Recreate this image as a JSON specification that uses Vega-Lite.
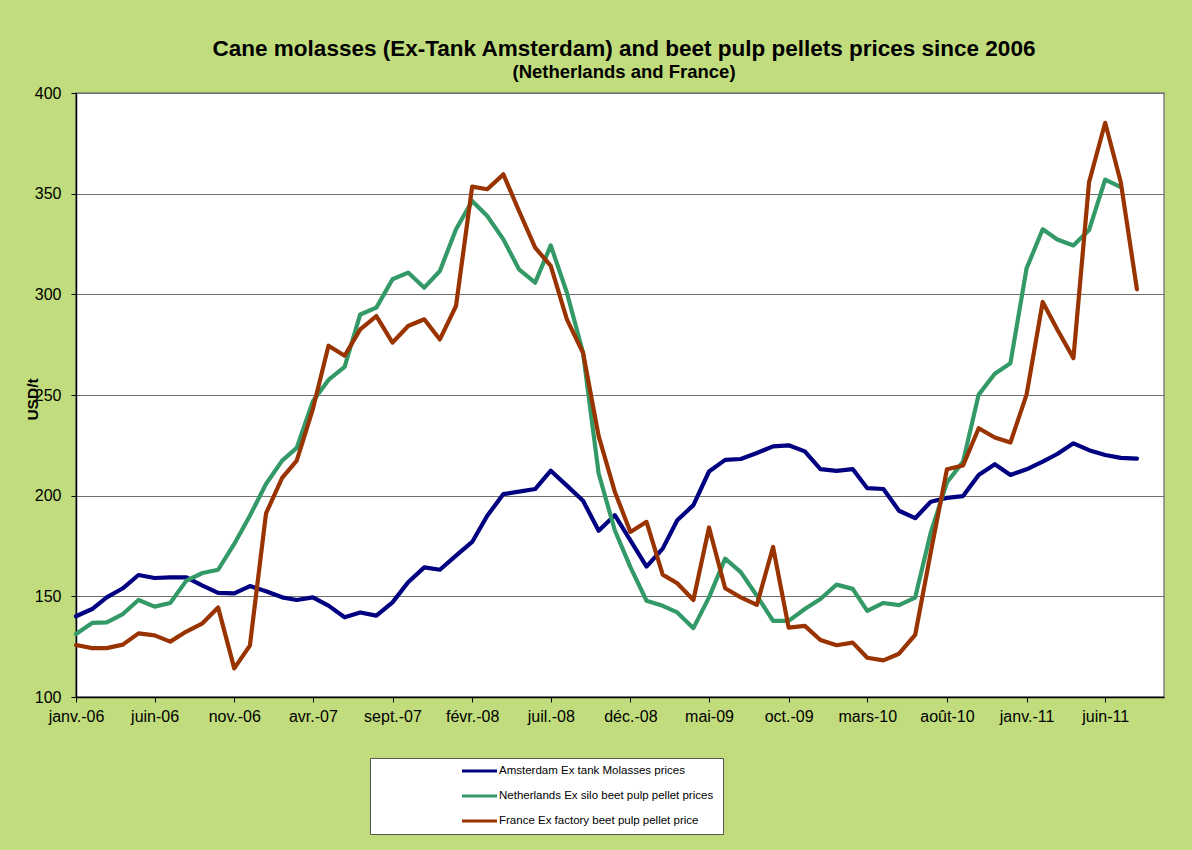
{
  "$schema": "https://vega.github.io/schema/vega-lite/v6.json",
  "width": 1088,
  "height": 604,
  "autosize": "none",
  "padding": {"left": 76, "top": 93, "right": 28, "bottom": 153},
  "background": "#C0DC7C",
  "title": {
    "text": "Cane molasses (Ex-Tank Amsterdam) and beet pulp pellets prices since 2006",
    "subtitle": "(Netherlands and France)",
    "font": "Liberation Sans",
    "subtitleFont": "Liberation Sans",
    "fontSize": 22.5,
    "subtitleFontSize": 18.5,
    "fontWeight": "bold",
    "subtitleFontWeight": "bold",
    "color": "black",
    "subtitleColor": "black",
    "anchor": "middle",
    "offset": 4,
    "subtitlePadding": 2,
    "dx": 4
  },
  "data": {
    "values": [
      {"date": "2006-01-01", "amsterdam": 140.1, "netherlands": 131.3, "france": 125.8},
      {"date": "2006-02-01", "amsterdam": 143.7, "netherlands": 136.8, "france": 124.3},
      {"date": "2006-03-01", "amsterdam": 149.5, "netherlands": 137.1, "france": 124.3},
      {"date": "2006-04-01", "amsterdam": 154.0, "netherlands": 141.2, "france": 126.0},
      {"date": "2006-05-01", "amsterdam": 160.6, "netherlands": 148.2, "france": 131.6},
      {"date": "2006-06-01", "amsterdam": 159.1, "netherlands": 144.9, "france": 130.6},
      {"date": "2006-07-01", "amsterdam": 159.4, "netherlands": 146.7, "france": 127.5},
      {"date": "2006-08-01", "amsterdam": 159.4, "netherlands": 157.8, "france": 132.5},
      {"date": "2006-09-01", "amsterdam": 155.3, "netherlands": 161.6, "france": 136.6},
      {"date": "2006-10-01", "amsterdam": 151.7, "netherlands": 163.2, "france": 144.5},
      {"date": "2006-11-01", "amsterdam": 151.5, "netherlands": 176.0, "france": 114.2},
      {"date": "2006-12-01", "amsterdam": 155.1, "netherlands": 190.0, "france": 125.5},
      {"date": "2007-01-01", "amsterdam": 152.5, "netherlands": 205.8, "france": 191.2},
      {"date": "2007-02-01", "amsterdam": 149.5, "netherlands": 217.4, "france": 208.8},
      {"date": "2007-03-01", "amsterdam": 148.2, "netherlands": 223.7, "france": 217.4},
      {"date": "2007-04-01", "amsterdam": 149.5, "netherlands": 246.9, "france": 243.0},
      {"date": "2007-05-01", "amsterdam": 145.4, "netherlands": 257.5, "france": 274.5},
      {"date": "2007-06-01", "amsterdam": 139.6, "netherlands": 264.0, "france": 269.5},
      {"date": "2007-07-01", "amsterdam": 142.0, "netherlands": 290.0, "france": 282.6},
      {"date": "2007-08-01", "amsterdam": 140.4, "netherlands": 293.4, "france": 289.2},
      {"date": "2007-09-01", "amsterdam": 147.0, "netherlands": 307.5, "france": 276.0},
      {"date": "2007-10-01", "amsterdam": 157.0, "netherlands": 310.8, "france": 284.3},
      {"date": "2007-11-01", "amsterdam": 164.4, "netherlands": 303.3, "france": 287.6},
      {"date": "2007-12-01", "amsterdam": 163.2, "netherlands": 311.6, "france": 277.6},
      {"date": "2008-01-01", "amsterdam": 170.2, "netherlands": 332.3, "france": 294.2},
      {"date": "2008-02-01", "amsterdam": 177.0, "netherlands": 346.4, "france": 353.5},
      {"date": "2008-03-01", "amsterdam": 190.0, "netherlands": 338.9, "france": 352.2},
      {"date": "2008-04-01", "amsterdam": 200.8, "netherlands": 327.3, "france": 359.6},
      {"date": "2008-05-01", "amsterdam": 202.0, "netherlands": 312.4, "france": 341.4},
      {"date": "2008-06-01", "amsterdam": 203.3, "netherlands": 305.8, "france": 323.2},
      {"date": "2008-07-01", "amsterdam": 212.4, "netherlands": 324.3, "france": 314.1},
      {"date": "2008-08-01", "amsterdam": 205.0, "netherlands": 300.8, "france": 287.6},
      {"date": "2008-09-01", "amsterdam": 197.5, "netherlands": 271.0, "france": 271.0},
      {"date": "2008-10-01", "amsterdam": 182.6, "netherlands": 211.0, "france": 229.6},
      {"date": "2008-11-01", "amsterdam": 190.3, "netherlands": 182.8, "france": 202.0},
      {"date": "2008-12-01", "amsterdam": 177.8, "netherlands": 164.5, "france": 182.0},
      {"date": "2009-01-01", "amsterdam": 164.8, "netherlands": 147.8, "france": 187.0},
      {"date": "2009-02-01", "amsterdam": 173.7, "netherlands": 145.3, "france": 160.8},
      {"date": "2009-03-01", "amsterdam": 187.8, "netherlands": 142.0, "france": 156.5},
      {"date": "2009-04-01", "amsterdam": 195.3, "netherlands": 134.2, "france": 148.2},
      {"date": "2009-05-01", "amsterdam": 212.0, "netherlands": 149.5, "france": 184.2},
      {"date": "2009-06-01", "amsterdam": 217.8, "netherlands": 168.7, "france": 154.0},
      {"date": "2009-07-01", "amsterdam": 218.2, "netherlands": 162.0, "france": 149.5},
      {"date": "2009-08-01", "amsterdam": 221.2, "netherlands": 150.3, "france": 145.8},
      {"date": "2009-09-01", "amsterdam": 224.5, "netherlands": 137.8, "france": 174.5},
      {"date": "2009-10-01", "amsterdam": 225.0, "netherlands": 137.8, "france": 134.5},
      {"date": "2009-11-01", "amsterdam": 222.0, "netherlands": 143.7, "france": 135.3},
      {"date": "2009-12-01", "amsterdam": 213.2, "netherlands": 148.7, "france": 128.3},
      {"date": "2010-01-01", "amsterdam": 212.3, "netherlands": 155.8, "france": 125.7},
      {"date": "2010-02-01", "amsterdam": 213.2, "netherlands": 153.7, "france": 127.0},
      {"date": "2010-03-01", "amsterdam": 203.7, "netherlands": 142.8, "france": 119.5},
      {"date": "2010-04-01", "amsterdam": 203.3, "netherlands": 146.7, "france": 118.2},
      {"date": "2010-05-01", "amsterdam": 192.5, "netherlands": 145.6, "france": 121.5},
      {"date": "2010-06-01", "amsterdam": 188.8, "netherlands": 149.4, "france": 130.8},
      {"date": "2010-07-01", "amsterdam": 197.0, "netherlands": 181.7, "france": 172.0},
      {"date": "2010-08-01", "amsterdam": 198.9, "netherlands": 206.5, "france": 213.1},
      {"date": "2010-09-01", "amsterdam": 199.8, "netherlands": 216.9, "france": 215.0},
      {"date": "2010-10-01", "amsterdam": 210.3, "netherlands": 250.2, "france": 233.5},
      {"date": "2010-11-01", "amsterdam": 215.6, "netherlands": 260.6, "france": 228.9},
      {"date": "2010-12-01", "amsterdam": 210.3, "netherlands": 265.8, "france": 226.4},
      {"date": "2011-01-01", "amsterdam": 213.1, "netherlands": 312.9, "france": 250.2},
      {"date": "2011-02-01", "amsterdam": 216.9, "netherlands": 332.3, "france": 296.2},
      {"date": "2011-03-01", "amsterdam": 220.7, "netherlands": 327.2, "france": 282.5},
      {"date": "2011-04-01", "amsterdam": 226.0, "netherlands": 324.3, "france": 268.3},
      {"date": "2011-05-01", "amsterdam": 222.6, "netherlands": 331.9, "france": 355.7},
      {"date": "2011-06-01", "amsterdam": 220.2, "netherlands": 357.0, "france": 385.2},
      {"date": "2011-07-01", "amsterdam": 218.8, "netherlands": 353.2, "france": 355.7},
      {"date": "2011-08-01", "amsterdam": 218.4, "netherlands": null, "france": 302.5}
    ]
  },
  "transform": [
    {"fold": ["amsterdam", "netherlands", "france"], "as": ["series", "price"]}
  ],
  "mark": {"type": "line", "strokeWidth": 4.2, "strokeJoin": "round", "strokeCap": "round"},
  "encoding": {
    "x": {
      "field": "date",
      "type": "temporal",
      "scale": {
        "type": "utc",
        "domain": [
          {"year": 2006, "month": 1, "date": 1, "utc": true},
          {"year": 2011, "month": 9, "date": 22, "utc": true}
        ],
        "nice": false
      },
      "axis": {
        "title": null,
        "grid": false,
        "values": [
          {"year": 2006, "month": 1, "date": 1, "utc": true},
          {"year": 2006, "month": 6, "date": 1, "utc": true},
          {"year": 2006, "month": 11, "date": 1, "utc": true},
          {"year": 2007, "month": 4, "date": 1, "utc": true},
          {"year": 2007, "month": 9, "date": 1, "utc": true},
          {"year": 2008, "month": 2, "date": 1, "utc": true},
          {"year": 2008, "month": 7, "date": 1, "utc": true},
          {"year": 2008, "month": 12, "date": 1, "utc": true},
          {"year": 2009, "month": 5, "date": 1, "utc": true},
          {"year": 2009, "month": 10, "date": 1, "utc": true},
          {"year": 2010, "month": 3, "date": 1, "utc": true},
          {"year": 2010, "month": 8, "date": 1, "utc": true},
          {"year": 2011, "month": 1, "date": 1, "utc": true},
          {"year": 2011, "month": 6, "date": 1, "utc": true}
        ],
        "labelExpr": "['janv.','févr.','mars','avr.','mai','juin','juil.','août','sept.','oct.','nov.','déc.'][utcmonth(datum.value)] + '-' + utcFormat(datum.value, '%y')",
        "labelFont": "Liberation Sans",
        "labelFontSize": 16,
        "labelColor": "black",
        "labelPadding": 6,
        "labelFlush": false,
        "labelOverlap": false,
        "tickSize": 5,
        "tickColor": "black",
        "domainColor": "black",
        "domainWidth": 1.5
      }
    },
    "y": {
      "field": "price",
      "type": "quantitative",
      "scale": {"domain": [100, 400], "nice": false, "zero": false},
      "axis": {
        "title": "USD/t",
        "titleFont": "Liberation Sans",
        "titleFontSize": 15.5,
        "titleFontWeight": "bold",
        "titleColor": "black",
        "titleX": -44,
        "titleY": 306,
        "titleAlign": "center",
        "titleBaseline": "middle",
        "titleAngle": -90,
        "values": [100, 150, 200, 250, 300, 350, 400],
        "grid": true,
        "gridColor": "#707070",
        "gridWidth": 1,
        "labelFont": "Liberation Sans",
        "labelFontSize": 16,
        "labelColor": "black",
        "labelPadding": 10,
        "tickSize": 5,
        "tickColor": "black",
        "domainColor": "black",
        "domainWidth": 1.5
      }
    },
    "color": {
      "field": "series",
      "type": "nominal",
      "scale": {
        "domain": ["amsterdam", "netherlands", "france"],
        "range": ["#000080", "#339966", "#993300"]
      },
      "legend": {
        "title": null,
        "orient": "none",
        "legendX": 294,
        "legendY": 665,
        "fillColor": "white",
        "strokeColor": "#555555",
        "padding": 6.5,
        "symbolType": "M-3.5,0H3.5",
        "symbolSize": 100,
        "symbolStrokeWidth": 3,
        "symbolOffset": 96.5,
        "rowPadding": 12,
        "labelOffset": 13,
        "labelFont": "Liberation Sans",
        "labelFontSize": 11.5,
        "labelColor": "black",
        "labelLimit": 600,
        "labelExpr": "(datum.value == 'amsterdam' ? 'Amsterdam Ex tank Molasses prices' : datum.value == 'netherlands' ? 'Netherlands Ex silo beet pulp pellet  prices' : 'France Ex factory beet pulp pellet price') + '                          '"
      }
    }
  },
  "config": {
    "view": {"stroke": "#808080", "strokeWidth": 1.5, "fill": "white"}
  }
}
